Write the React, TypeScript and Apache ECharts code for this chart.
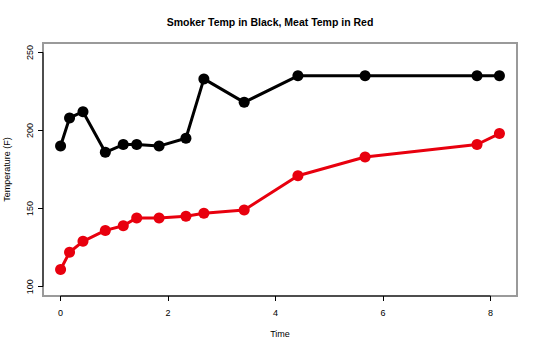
import React, { useEffect, useRef } from "react";
import * as echarts from "echarts";

const timeHours = [0, 0.167, 0.417, 0.833, 1.167, 1.417, 1.833, 2.333, 2.667, 3.417, 4.417, 5.667, 7.75, 8.167];
const smokerTemp = [190, 208, 212, 186, 191, 191, 190, 195, 233, 218, 235, 235, 235, 235];
const meatTemp = [111, 122, 129, 136, 139, 144, 144, 145, 147, 149, 171, 183, 191, 198];
const xTicks = [0, 2, 4, 6, 8];
const yTicks = [100, 150, 200, 250];

const FONT = "'Liberation Sans', Arial, Helvetica, sans-serif";

export default function App() {
  const ref = useRef<HTMLDivElement>(null);
  useEffect(() => {
    if (!ref.current) return;
    const chart = echarts.init(ref.current, undefined, { renderer: "svg" });
    const xMin = -0.327;
    const xMax = 8.494;
    const yMin = 94;
    const yMax = 256;
    chart.setOption({
      animation: false,
      backgroundColor: "#fff",
      textStyle: { fontFamily: FONT },
      title: {
        text: "Smoker Temp in Black, Meat Temp in Red",
        left: "center",
        top: 11,
        textStyle: { fontFamily: FONT, fontSize: 10.5, fontWeight: "bold", color: "#000" },
      },
      grid: {
        left: 43,
        right: 23,
        top: 43,
        bottom: 54,
        containLabel: false,
        outerBoundsMode: "none",
        show: true,
        borderColor: "#9a9a9a",
        borderWidth: 2,
        backgroundColor: "transparent",
      },
      xAxis: {
        type: "value",
        min: xMin,
        max: xMax,
        name: "Time",
        nameLocation: "middle",
        nameGap: 33,
        nameTextStyle: { fontFamily: FONT, fontSize: 9, color: "#000" },
        axisLine: { show: false, onZero: false },
        splitLine: { show: false },
        axisTick: { show: true, length: 5, customValues: xTicks, lineStyle: { color: "#000", width: 1 } },
        axisLabel: { customValues: xTicks, margin: 12, fontFamily: FONT, fontSize: 9, color: "#000" },
      },
      yAxis: {
        type: "value",
        min: yMin,
        max: yMax,
        name: "Temperature (F)",
        nameLocation: "middle",
        nameGap: 32,
        nameTextStyle: { fontFamily: FONT, fontSize: 9, color: "#000" },
        axisLine: { show: false, onZero: false },
        splitLine: { show: false },
        axisTick: { show: true, length: 5, customValues: yTicks, lineStyle: { color: "#000", width: 1 } },
        axisLabel: { customValues: yTicks, rotate: 90, margin: 9, fontFamily: FONT, fontSize: 9, color: "#000" },
      },
      series: [
        {
          type: "line",
          silent: true,
          clip: false,
          symbol: "none",
          lineStyle: { color: "#000", width: 1 },
          data: [[xTicks[0], yMin], [xTicks[xTicks.length - 1], yMin]],
        },
        {
          type: "line",
          silent: true,
          clip: false,
          symbol: "none",
          lineStyle: { color: "#000", width: 1 },
          data: [[xMin, yTicks[0]], [xMin, yTicks[yTicks.length - 1]]],
        },
        {
          name: "Smoker",
          type: "line",
          data: timeHours.map((t, i) => [t, smokerTemp[i]]),
          symbol: "circle",
          symbolSize: 11,
          itemStyle: { color: "#000" },
          lineStyle: { color: "#000", width: 3 },
        },
        {
          name: "Meat",
          type: "line",
          data: timeHours.map((t, i) => [t, meatTemp[i]]),
          symbol: "circle",
          symbolSize: 11,
          itemStyle: { color: "#e8000e" },
          lineStyle: { color: "#e8000e", width: 3 },
        },
      ],
    });
    return () => chart.dispose();
  }, []);
  return <div ref={ref} style={{ width: 540, height: 350, position: "absolute", left: 0, top: 0 }} />;
}
